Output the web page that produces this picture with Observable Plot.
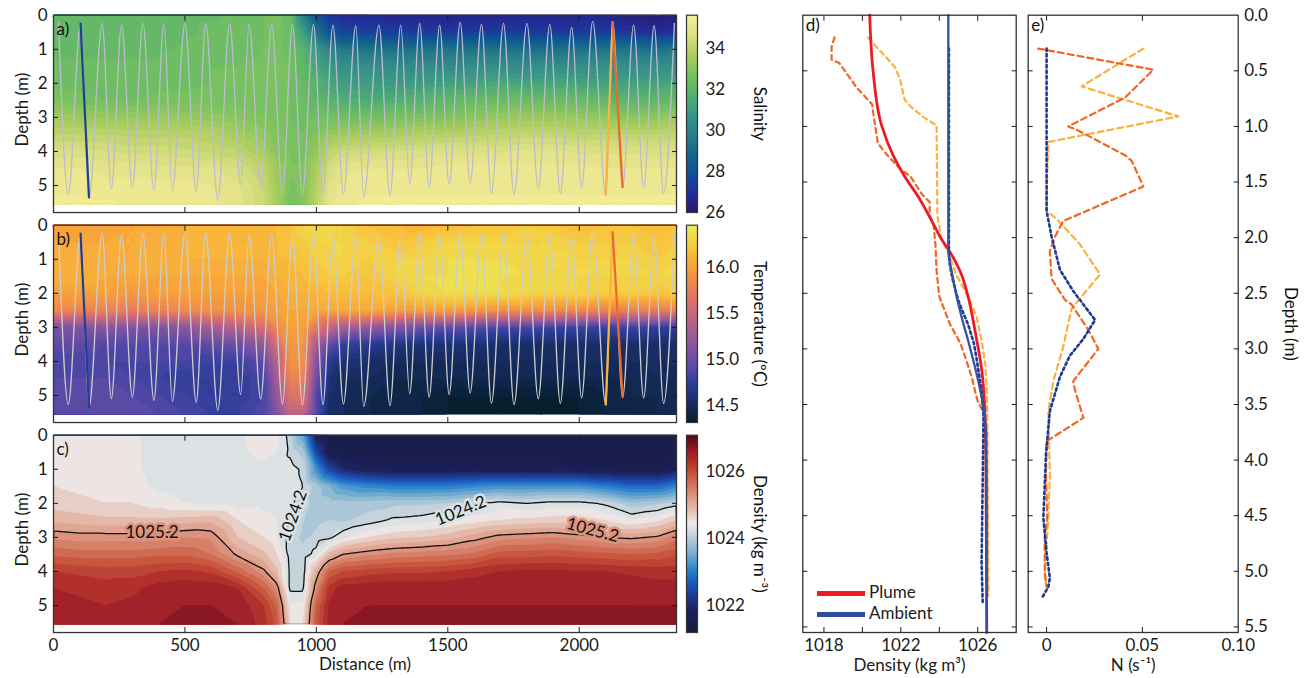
<!DOCTYPE html>
<html><head><meta charset="utf-8">
<script src="https://cdn.jsdelivr.net/npm/d3@7"></script>
<script src="https://cdn.jsdelivr.net/npm/@observablehq/plot@0.6"></script>
<style>
body{margin:0;background:#fff;font-family:Lato,sans-serif;}
#fig{position:relative;width:1309px;height:678px;overflow:hidden;background:#fff;}
#fig svg{overflow:visible;}
.leg{position:absolute;font:17px Lato,sans-serif;line-height:21px;color:#1a1a1a;}
.sw{display:inline-block;width:48px;height:5px;vertical-align:middle;margin-right:4px;}
</style></head><body><div id="fig"></div><script>
// ---------- section grid (distance along track, m) x (depth, m) ----------
const distances = [0,100,200,300,400,500,600,700,800,850,900,950,1000,1050,1100,1200,1300,1400,1500,1600,1700,1800,1900,2000,2100,2200,2300,2370];
const depths = [0,0.5,1,1.5,2,2.5,3,3.5,4,4.5,5,5.55];

const salinity = [
 [32.2,32.2,32.2,32.1,32.1,32.2,32.2,32.3,32.5,32.6,32.3,30.0,28.0,27.0,26.8,26.7,26.6,26.6,26.5,26.5,26.6,26.6,26.5,26.6,26.6,26.3,26.2,26.3],
 [32.2,32.2,32.2,32.1,32.1,32.2,32.3,32.3,32.5,32.6,32.3,31.0,29.3,28.0,27.5,27.4,27.3,27.3,27.2,27.3,27.3,27.2,27.2,27.2,27.3,27.0,26.8,27.0],
 [32.2,32.2,32.2,32.2,32.2,32.3,32.4,32.4,32.5,32.6,32.4,31.8,30.8,30.0,29.5,29.3,29.2,29.2,29.3,29.3,29.3,29.2,29.2,29.3,29.3,29.3,29.2,29.5],
 [32.3,32.3,32.3,32.3,32.3,32.4,32.5,32.5,32.5,32.6,32.5,32.0,31.3,30.8,30.5,30.4,30.3,30.3,30.3,30.4,30.4,30.3,30.4,30.4,30.5,30.4,30.4,30.6],
 [32.4,32.4,32.3,32.3,32.4,32.4,32.5,32.5,32.6,32.6,32.5,32.2,31.8,31.3,31.0,31.0,30.9,31.0,31.1,31.2,31.4,31.2,31.3,31.2,31.2,31.1,31.2,31.3],
 [32.7,32.6,32.5,32.5,32.6,32.6,32.6,32.6,32.6,32.6,32.5,32.3,32.0,31.8,31.6,31.5,31.6,31.8,32.0,32.2,32.3,32.3,32.3,32.2,32.1,31.9,32.0,32.2],
 [33.4,33.3,33.2,33.2,33.3,33.2,33.1,33.0,32.8,32.6,32.5,32.4,32.5,32.5,32.4,32.5,32.6,32.7,32.8,33.0,33.2,33.3,33.3,33.2,33.1,33.0,33.1,33.3],
 [34.0,34.0,34.0,33.9,33.9,33.9,33.8,33.5,33.1,32.8,32.6,32.5,32.8,33.2,33.4,33.5,33.6,33.7,33.8,33.9,34.0,34.1,34.1,34.0,34.0,34.0,34.0,34.1],
 [34.6,34.6,34.5,34.4,34.4,34.3,34.2,34.0,33.5,33.0,32.7,32.6,33.2,34.0,34.3,34.4,34.5,34.6,34.7,34.7,34.7,34.8,34.8,34.7,34.7,34.7,34.6,34.7],
 [35.0,35.0,34.9,34.9,34.8,34.8,34.8,34.5,34.0,33.3,32.8,32.8,33.6,34.5,34.9,35.0,35.0,35.0,35.1,35.1,35.1,35.1,35.1,35.1,35.0,35.0,35.0,35.0],
 [35.2,35.2,35.1,35.1,35.1,35.1,35.0,34.8,34.2,33.4,32.7,32.8,33.8,34.8,35.1,35.2,35.2,35.2,35.2,35.2,35.2,35.2,35.2,35.2,35.2,35.2,35.2,35.2],
 [35.3,35.3,35.3,35.2,35.2,35.2,35.1,34.9,34.3,33.5,32.6,32.8,33.9,34.9,35.2,35.3,35.3,35.3,35.3,35.3,35.3,35.3,35.3,35.3,35.3,35.3,35.3,35.3]
];

const temperature = [
 [16.05,16.0,16.0,16.05,16.05,16.1,16.15,16.1,16.1,16.15,16.2,16.3,16.35,16.3,16.3,16.2,16.15,16.1,16.15,16.2,16.2,16.25,16.2,16.15,16.2,16.2,16.15,16.2],
 [16.05,16.05,16.05,16.05,16.05,16.1,16.1,16.1,16.1,16.15,16.2,16.25,16.3,16.3,16.3,16.25,16.2,16.25,16.3,16.3,16.3,16.3,16.3,16.25,16.25,16.25,16.2,16.25],
 [16.1,16.05,16.05,16.05,16.1,16.1,16.1,16.1,16.1,16.15,16.15,16.2,16.25,16.3,16.3,16.25,16.3,16.3,16.35,16.35,16.35,16.3,16.3,16.3,16.3,16.3,16.25,16.3],
 [16.1,16.1,16.05,16.05,16.05,16.05,16.05,16.05,16.05,16.1,16.1,16.15,16.2,16.25,16.25,16.2,16.3,16.35,16.35,16.4,16.35,16.35,16.3,16.3,16.3,16.3,16.3,16.3],
 [16.0,16.0,16.0,15.95,16.0,16.0,16.0,16.0,16.0,16.05,16.1,16.1,16.1,16.15,16.15,16.15,16.2,16.3,16.35,16.35,16.35,16.3,16.3,16.3,16.25,16.25,16.2,16.25],
 [15.85,15.8,15.8,15.75,15.8,15.85,15.9,15.9,15.95,16.0,16.05,16.05,16.05,16.05,16.05,16.05,16.0,16.0,16.0,15.95,15.9,15.9,15.85,15.85,15.8,15.8,15.75,15.8],
 [15.05,15.1,15.15,15.1,15.1,15.15,15.3,15.4,15.6,15.85,16.0,16.0,15.7,15.5,15.3,15.2,15.1,15.0,14.95,14.9,14.85,14.85,14.8,14.8,14.8,14.8,14.75,14.75],
 [14.95,14.95,14.9,14.9,14.9,14.9,14.95,15.0,15.2,15.6,15.95,15.95,15.3,14.95,14.75,14.7,14.65,14.6,14.6,14.6,14.55,14.55,14.55,14.55,14.55,14.55,14.55,14.55],
 [14.85,14.85,14.85,14.85,14.85,14.85,14.8,14.8,14.95,15.4,15.9,15.9,15.1,14.7,14.6,14.55,14.5,14.5,14.5,14.5,14.5,14.5,14.5,14.5,14.5,14.5,14.5,14.5],
 [14.9,14.9,14.9,14.85,14.8,14.75,14.75,14.75,14.85,15.3,15.8,15.8,15.0,14.6,14.5,14.5,14.45,14.45,14.45,14.45,14.45,14.45,14.45,14.45,14.45,14.45,14.5,14.5],
 [14.95,14.95,14.95,14.9,14.85,14.8,14.75,14.75,14.85,15.2,15.65,15.65,14.9,14.55,14.5,14.45,14.45,14.4,14.35,14.35,14.35,14.35,14.35,14.35,14.4,14.45,14.45,14.5],
 [14.95,14.95,14.95,14.95,14.9,14.85,14.8,14.8,14.9,15.1,15.45,15.45,14.9,14.55,14.5,14.45,14.45,14.4,14.35,14.35,14.35,14.35,14.35,14.35,14.4,14.45,14.45,14.5]
];

const density = [
 [1024.55,1024.55,1024.55,1024.45,1024.3,1024.3,1024.3,1024.35,1024.5,1024.45,1024.1,1023.4,1021.8,1021.5,1021.45,1021.45,1021.45,1021.45,1021.45,1021.45,1021.45,1021.45,1021.45,1021.45,1021.45,1021.4,1021.4,1021.45],
 [1024.55,1024.55,1024.55,1024.45,1024.3,1024.3,1024.3,1024.35,1024.45,1024.4,1024.15,1023.9,1022.4,1021.6,1021.5,1021.5,1021.5,1021.5,1021.5,1021.5,1021.5,1021.5,1021.5,1021.5,1021.5,1021.45,1021.45,1021.5],
 [1024.55,1024.55,1024.55,1024.45,1024.3,1024.3,1024.3,1024.3,1024.35,1024.35,1024.3,1024.15,1023.2,1022.4,1022.0,1021.75,1021.7,1021.7,1021.7,1021.7,1021.7,1021.7,1021.7,1021.65,1021.6,1021.6,1021.6,1021.8],
 [1024.6,1024.55,1024.55,1024.5,1024.35,1024.3,1024.3,1024.3,1024.35,1024.35,1024.3,1024.2,1023.9,1023.6,1023.3,1023.1,1023.0,1023.0,1023.0,1023.1,1023.2,1023.2,1023.2,1023.2,1023.0,1022.8,1022.8,1023.1],
 [1024.7,1024.65,1024.6,1024.6,1024.5,1024.4,1024.35,1024.3,1024.35,1024.35,1024.25,1024.05,1023.95,1023.9,1023.9,1023.9,1023.95,1023.95,1024.0,1024.15,1024.3,1024.2,1024.3,1024.3,1024.15,1023.85,1023.95,1024.1],
 [1024.95,1024.9,1024.85,1024.85,1024.85,1024.9,1024.95,1024.6,1024.45,1024.4,1024.2,1024.0,1023.95,1024.0,1023.95,1024.1,1024.25,1024.3,1024.4,1024.5,1024.6,1024.65,1024.7,1024.7,1024.6,1024.4,1024.55,1024.8],
 [1025.35,1025.3,1025.3,1025.3,1025.3,1025.4,1025.35,1024.8,1024.6,1024.45,1024.1,1023.95,1024.05,1024.15,1024.35,1024.6,1024.75,1024.8,1024.9,1025.1,1025.3,1025.35,1025.4,1025.3,1025.2,1025.15,1025.25,1025.5],
 [1025.75,1025.7,1025.7,1025.7,1025.75,1025.75,1025.6,1025.15,1024.85,1024.6,1024.1,1024.05,1024.3,1024.9,1025.2,1025.35,1025.45,1025.5,1025.55,1025.65,1025.9,1025.9,1025.95,1025.9,1025.85,1025.8,1025.85,1025.95],
 [1026.2,1026.15,1026.1,1026.1,1026.2,1026.25,1026.15,1025.75,1025.25,1024.85,1024.15,1024.1,1025.0,1025.8,1026.0,1026.1,1026.15,1026.15,1026.2,1026.3,1026.4,1026.45,1026.45,1026.4,1026.4,1026.35,1026.3,1026.3],
 [1026.4,1026.35,1026.3,1026.35,1026.5,1026.55,1026.55,1026.4,1025.8,1025.35,1024.15,1024.15,1025.4,1026.3,1026.5,1026.55,1026.55,1026.55,1026.55,1026.55,1026.55,1026.55,1026.55,1026.55,1026.55,1026.55,1026.5,1026.5],
 [1026.55,1026.45,1026.4,1026.45,1026.55,1026.6,1026.6,1026.55,1026.2,1025.75,1024.45,1024.45,1025.8,1026.45,1026.6,1026.6,1026.6,1026.6,1026.6,1026.6,1026.6,1026.6,1026.6,1026.6,1026.6,1026.6,1026.6,1026.6],
 [1026.6,1026.5,1026.45,1026.5,1026.6,1026.65,1026.65,1026.6,1026.3,1025.9,1024.6,1024.6,1025.9,1026.5,1026.6,1026.62,1026.62,1026.62,1026.62,1026.62,1026.62,1026.62,1026.62,1026.62,1026.62,1026.62,1026.62,1026.62]
];

// tow-yo path turning points
const towDistance = [19,56,103,135,185,220,259,300,340,382,420,452,500,543,579,625,670,712,744,788,830,871,909,947,989,1025,1063,1103,1150,1180,1238,1280,1321,1355,1393,1429,1469,1505,1547,1585,1628,1666,1712,1752,1801,1844,1888,1928,1971,2009,2051,2101,2127,2165,2207,2245,2285,2321,2362];
const towDepth = [0.2,5.27,0.25,5.35,0.24,5.1,0.29,5.05,0.24,5.14,0.24,5.17,0.24,5.2,0.24,5.44,0.24,4.97,0.27,5.1,0.27,5.25,0.27,5.27,0.27,5.27,0.29,5.25,0.31,5.32,0.29,5.3,0.29,4.95,0.24,5.05,0.29,4.97,0.21,4.93,0.27,5.23,0.24,5.27,0.24,5.1,0.27,5.23,0.36,5.07,0.18,5.27,0.2,5.05,0.29,5.07,0.31,5.23,0.24];

// selected casts
const ambientCastDistance = [103,135], ambientCastDepth = [0.25,5.35];
const plumeUpcastDistance = [2101,2127], plumeUpcastDepth = [5.27,0.2];
const plumeDowncastDistance = [2127,2165], plumeDowncastDepth = [0.2,5.05];

// labelled isopycnals
const isopycnals = [1024.2, 1025.2];
const isoLabelText = ["1025.2","1024.2","1024.2","1025.2"];
const isoLabelDistance = [375, 911, 1549, 2051];
const isoLabelDepth = [2.86, 2.37, 2.22, 2.79];
const isoLabelAngle = [0, -70, -22, 15];

// panel d : density profiles
const plumeModelRho = [1020.38,1020.55,1021.0,1021.6,1022.2,1022.9,1023.7,1024.1,1024.56,1025.08,1025.5,1025.86,1026.2,1026.38,1026.43,1026.47];
const plumeModelDepth = [0,0.49,0.99,1.26,1.45,1.63,1.88,2.01,2.13,2.3,2.53,2.84,3.18,3.6,4.15,5.55];
const ambientModelRho = [1024.47,1024.47,1024.52,1024.64,1024.9,1025.17,1025.6,1026.04,1026.3,1026.43,1026.47];
const ambientModelDepth = [0,2.1,2.2,2.3,2.53,2.72,2.99,3.3,3.53,3.76,5.55];
const plumeCastARho = [1018.55,1018.4,1018.4,1018.8,1019.7,1020.5,1020.6,1020.8,1021.2,1021.95,1022.5,1023.1,1023.5,1023.5,1023.7,1023.8,1023.86,1024.0,1024.56,1025.1,1025.4,1025.7,1025.86,1026.0,1026.3,1026.47,1026.5];
const plumeCastADepth = [0.2,0.28,0.4,0.43,0.65,0.8,0.92,1.15,1.24,1.38,1.45,1.61,1.68,1.8,1.88,2.07,2.3,2.53,2.78,2.95,3.1,3.26,3.38,3.47,3.57,3.76,5.22];
const plumeCastBRho = [1020.3,1020.7,1021.25,1021.7,1021.95,1022.2,1022.5,1023.2,1023.86,1023.9,1024.1,1024.56,1024.9,1025.25,1025.6,1025.95,1026.2,1026.4,1026.47,1026.5,1026.55];
const plumeCastBDepth = [0.2,0.28,0.38,0.47,0.57,0.76,0.82,0.92,0.99,1.8,2.0,2.18,2.34,2.45,2.57,2.72,2.92,3.15,3.38,3.6,5.22];
const ambientCastRho = [1024.5,1024.5,1024.55,1024.7,1025.0,1025.25,1025.5,1025.8,1025.95,1026.2,1026.3,1026.26,1026.2,1026.26];
const ambientCastRhoDepth = [0.3,2.1,2.25,2.38,2.57,2.68,2.78,2.95,3.1,3.38,3.6,4.15,4.92,5.3];

// panel e : buoyancy frequency
const plumeCastAN = [-0.0044,0.0557,0.041,0.0113,0.0157,0.0235,0.041,0.0444,0.0505,0.0087,0.0044,0.0017,0.0026,0.0096,0.013,0.0218,0.027,0.0139,0.0148,0.0192,0,-0.0003,0.0003,-0.001,-0.0009,0];
const plumeCastANDepth = [0.3,0.49,0.74,1.0,1.03,1.1,1.26,1.31,1.54,1.85,1.99,2.12,2.37,2.56,2.6,2.83,3.0,3.29,3.37,3.62,3.83,4.14,4.52,4.71,5.02,5.13];
const plumeCastBN = [0.0505,0.0183,0.0688,0.0009,0.0003,0,0.0052,0.0174,0.0279,0.013,0.0087,0.0035,0.0009,0.0014,0.0017,0.0009,-0.0003,-0.0009,0];
const plumeCastBNDepth = [0.3,0.64,0.91,1.14,1.45,1.76,1.83,2.06,2.33,2.64,2.98,3.29,3.56,3.94,4.14,4.52,4.83,5.06,5.15];
const ambientCastN = [0,0,0,0.0026,0.007,0.0139,0.0253,0.0192,0.0122,0.007,0.0017,-0.0003,-0.0017,0,0.0017,0.0009,-0.0021];
const ambientCastNDepth = [0.3,1.06,1.76,1.99,2.29,2.48,2.74,2.91,3.06,3.25,3.56,3.94,4.52,4.83,5.06,5.14,5.23];

const legendNames = ["Plume","Ambient"];

// ---------- colour maps ----------
function ramp(vals, cols, lo, hi, shift = 0) {
  const s = d3.scaleLinear().domain(vals).range(cols).interpolate(d3.interpolateRgb).clamp(true);
  return {type: "linear", domain: [lo, hi], interpolate: t => s(lo + t * (hi - lo) + shift)};
}
const SAL = [26, 35.6], TEM = [14.32, 16.46], RHO = [1021.2, 1027.07];
const salStops = [[26,26.96,27.92,28.88,29.84,30.8,31.76,32.72,33.68,34.64,35.6],
  ["#29186b","#21309a","#0f5297","#16688b","#2a8189","#3a9787","#56b26e","#7cc25e","#b0cf5e","#dcdf84","#fbef9b"]];
const temStops = [[14.32,14.45,14.6,14.75,14.9,15.05,15.25,15.5,15.75,16.0,16.2,16.46],
  ["#061e2d","#122850","#1d3275","#2e3e99","#5448a6","#7651a4","#9b5b98","#c7687e","#e77c5c","#f7a13a","#f9c43c","#e8ee58"]];
const rhoStops = [[1021.2,1021.9,1022.3,1022.7,1023.1,1023.6,1024.0,1024.45,1024.9,1025.4,1025.9,1026.3,1026.6,1027.07],
  ["#161a3d","#1c2360","#1f3a93","#1c5cc0","#2f86cc","#7fb2d0","#b9cdd8","#eeebea","#e4b8a8","#d98a72","#c9573e","#b2302b","#9a1b28","#4a0a15"]];
// colorbars: continuous; sections: each filled band takes the colour of its mid value
const salBar = ramp(...salStops, ...SAL), salFill = ramp(...salStops, ...SAL, 0.125);
const temBar = ramp(...temStops, ...TEM), temFill = ramp(...temStops, ...TEM, 0.025);
const rhoBar = ramp(...rhoStops, ...RHO), rhoFill = ramp(...rhoStops, ...RHO, 0.1);

const style = {fontFamily: "Lato, sans-serif", fontSize: "17px", color: "#1a1a1a", background: "transparent", overflow: "visible"};
const fig = document.getElementById("fig");
function place(node, left, top) { node.style.position = "absolute"; node.style.left = left + "px"; node.style.top = top + "px"; fig.appendChild(node); }
const zip = (xs, ys) => xs.map((x, i) => ({x, d: ys[i]}));
const noText = () => "";
const intFmt = d3.format("d");

function gridPoints(values) { return depths.flatMap((d, i) => distances.map((x, j) => ({x, d, v: values[i][j]}))); }
const tow = zip(towDistance, towDepth);
const EXT = 8.3; // white strip below last data row, inside frame

function section(cfg) {
  const pts = gridPoints(cfg.values);
  const h = cfg.xLabels ? 258 : 214;
  const marks = [
    Plot.contour(pts, {x: "x", y: "d", value: "v", fill: "value", stroke: "value", strokeWidth: 0.6, interpolate: "barycentric", thresholds: cfg.thresholds, x1: 0, x2: 2370, y1: 0, y2: 5.55})
  ];
  if (cfg.lines) {
    marks.push(Plot.contour(pts, {x: "x", y: "d", value: "v", thresholds: cfg.lines, stroke: "#111", strokeWidth: 1.3, fill: "none", interpolate: "barycentric", x1: -200, x2: 2570, y1: -0.5, y2: 6.1, clip: "frame"}));
    const labs = isoLabelText.map((t, i) => ({t, x: isoLabelDistance[i], d: isoLabelDepth[i], a: isoLabelAngle[i]}));
    marks.push(Plot.text(labs, {x: "x", y: "d", text: "t", rotate: "a", fill: "#111", stroke: d => +d.t, strokeWidth: 5, paintOrder: "stroke", fontSize: 17}));
  }
  if (cfg.towStroke) {
    marks.push(Plot.line(tow, {x: "x", y: "d", stroke: cfg.towStroke, strokeWidth: 1.3, curve: "monotone-x"}));
    marks.push(Plot.line(zip(ambientCastDistance, ambientCastDepth), {x: "x", y: "d", stroke: "#1f3f94", strokeWidth: 2.2}));
    marks.push(Plot.line(zip(plumeUpcastDistance, plumeUpcastDepth), {x: "x", y: "d", stroke: "#fbb040", strokeWidth: 2.2}));
    marks.push(Plot.line(zip(plumeDowncastDistance, plumeDowncastDepth), {x: "x", y: "d", stroke: "#f26522", strokeWidth: 2.2}));
  }
  marks.push(
    Plot.frame({stroke: "#333", strokeWidth: 1.3, insetBottom: -EXT}),
    Plot.axisY({anchor: "left", ticks: [0,1,2,3,4,5], tickSize: 0, tickPadding: 6, tickFormat: intFmt, label: "Depth (m)", labelArrow: "none", labelAnchor: "center", labelOffset: 38}),
    Plot.axisY({anchor: "left", ticks: [1,2,3,4,5], tickSize: -5, tickFormat: noText, label: null}),
    Plot.axisY({anchor: "right", ticks: [1,2,3,4,5], tickSize: -5, tickFormat: noText, label: null}),
    Plot.axisX({anchor: "top", ticks: [500,1000,1500,2000], tickSize: -5, tickFormat: noText, label: null}),
    Plot.axisX({anchor: "bottom", ticks: [500,1000,1500,2000], tickSize: -5, tickFormat: noText, label: null, dy: EXT}),
    Plot.text([cfg.tag], {frameAnchor: "top-left", dx: 3, dy: 8, fill: "#111"})
  );
  if (cfg.xLabels) marks.push(Plot.axisX({anchor: "bottom", ticks: [0,500,1000,1500,2000], tickSize: 0, tickPadding: 6, tickFormat: intFmt, dy: EXT, label: "Distance (m)", labelArrow: "none", labelAnchor: "center", labelOffset: 46}));
  return Plot.plot({
    width: 680, height: h, marginLeft: 53, marginRight: 4, marginTop: 14.7, marginBottom: h - 14.7 - 5.55 * 34.06,
    x: {domain: [0, 2370]}, y: {domain: [0, 5.55], reverse: true},
    color: cfg.color, style, marks
  });
}

function colorbar(cfg) {
  return Plot.plot({
    width: 110, height: 214, marginLeft: 6, marginRight: 93, marginTop: 14.7, marginBottom: 2,
    x: {domain: [0, 1], axis: null}, y: {domain: cfg.domain},
    color: cfg.color, style,
    marks: [
      Plot.raster({x1: 0, x2: 1, y1: cfg.domain[0], y2: cfg.domain[1], fill: (x, y) => y}),
      Plot.frame({stroke: "#333", strokeWidth: 1.2}),
      Plot.axisY({anchor: "right", ticks: cfg.ticks, tickSize: 0, tickPadding: 8, tickFormat: cfg.format, label: null}),
      Plot.text([cfg.title], {frameAnchor: "right", rotate: 90, dx: 62, textAnchor: "middle", lineAnchor: "middle", fill: "#111"})
    ]
  });
}

place(section({values: salinity, color: salFill, thresholds: d3.range(0, 40).map(i => 26 + 0.25 * i), towStroke: "#bcbccf", tag: "a)"}), 0, 0);
place(section({values: temperature, color: temFill, thresholds: d3.range(0, 44).map(i => 14.3 + 0.05 * i), towStroke: "#cdcdcd", tag: "b)"}), 0, 210);
place(section({values: density, color: rhoFill, thresholds: d3.range(0, 30).map(i => 1021.2 + 0.2 * i), lines: isopycnals, tag: "c)", xLabels: true}), 0, 420);

place(colorbar({domain: SAL, color: salBar, ticks: [26,28,30,32,34], format: intFmt, title: "Salinity"}), 680, 0);
place(colorbar({domain: TEM, color: temBar, ticks: [14.5,15,15.5,16], format: d3.format(".1f"), title: "Temperature (ºC)"}), 680, 210);
place(colorbar({domain: RHO, color: rhoBar, ticks: [1022,1024,1026], format: intFmt, title: "Density (kg m⁻³)"}), 680, 420);

// ---------- panel d ----------
const depthTicks = d3.range(1, 12).map(i => i * 0.5);
const prof = (vs, ds) => vs.map((v, i) => ({v, d: ds[i]}));
place(Plot.plot({
  width: 245, height: 678, marginLeft: 22.3, marginRight: 9.3, marginTop: 14.7, marginBottom: 46,
  x: {domain: [1016.9, 1028]}, y: {domain: [0, 5.55], reverse: true}, style,
  marks: [
    Plot.line(prof(plumeCastBRho, plumeCastBDepth), {x: "v", y: "d", stroke: "#fbb040", strokeWidth: 2.2, strokeDasharray: "5,4"}),
    Plot.line(prof(plumeCastARho, plumeCastADepth), {x: "v", y: "d", stroke: "#f26522", strokeWidth: 2.2, strokeDasharray: "5,4"}),
    Plot.line(prof(plumeModelRho, plumeModelDepth), {x: "v", y: "d", stroke: "#ed1c24", strokeWidth: 2.8, curve: "monotone-y"}),
    Plot.line(prof(ambientCastRho, ambientCastRhoDepth), {x: "v", y: "d", stroke: "#1c3a91", strokeWidth: 2.6, strokeDasharray: "2.5,3"}),
    Plot.line(prof(ambientModelRho, ambientModelDepth), {x: "v", y: "d", stroke: "#3451a3", strokeWidth: 2.3, curve: "monotone-y"}),
    Plot.frame({stroke: "#333", strokeWidth: 1.3}),
    Plot.axisX({anchor: "bottom", ticks: [1018,1020,1022,1024,1026], tickSize: 0, tickPadding: 6, tickFormat: d => (d - 1018) % 4 === 0 ? intFmt(d) : "", label: "Density (kg m³)", labelArrow: "none", labelAnchor: "center", labelOffset: 38}),
    Plot.axisX({anchor: "bottom", ticks: [1018,1020,1022,1024,1026], tickSize: -5, tickFormat: noText, label: null}),
    Plot.axisX({anchor: "top", ticks: [1018,1020,1022,1024,1026], tickSize: -5, tickFormat: noText, label: null}),
    Plot.axisY({anchor: "left", ticks: depthTicks, tickSize: -5, tickFormat: noText, label: null}),
    Plot.axisY({anchor: "right", ticks: depthTicks, tickSize: -5, tickFormat: noText, label: null}),
    Plot.text(["d)"], {frameAnchor: "top-left", dx: 3, dy: 4, fill: "#111"})
  ]
}), 780, 0);

// ---------- panel e ----------
place(Plot.plot({
  width: 289, height: 678, marginLeft: 7.7, marginRight: 71.3, marginTop: 14.7, marginBottom: 46,
  x: {domain: [-0.0096, 0.1]}, y: {domain: [0, 5.55], reverse: true}, style,
  marks: [
    Plot.line(prof(plumeCastBN, plumeCastBNDepth), {x: "v", y: "d", stroke: "#fbb040", strokeWidth: 2.2, strokeDasharray: "6,4"}),
    Plot.line(prof(plumeCastAN, plumeCastANDepth), {x: "v", y: "d", stroke: "#f26522", strokeWidth: 2.2, strokeDasharray: "6,4"}),
    Plot.line(prof(ambientCastN, ambientCastNDepth), {x: "v", y: "d", stroke: "#1c3a91", strokeWidth: 2.6, strokeDasharray: "2.5,3"}),
    Plot.frame({stroke: "#333", strokeWidth: 1.3}),
    Plot.axisX({anchor: "bottom", ticks: [0, 0.05, 0.1], tickSize: 0, tickPadding: 6, tickFormat: d => d === 0 ? "0" : d3.format(".2f")(d), label: "N (s⁻¹)", labelArrow: "none", labelAnchor: "center", labelOffset: 38}),
    Plot.axisX({anchor: "bottom", ticks: [0, 0.05], tickSize: -5, tickFormat: noText, label: null}),
    Plot.axisX({anchor: "top", ticks: [0, 0.05], tickSize: -5, tickFormat: noText, label: null}),
    Plot.axisY({anchor: "left", ticks: depthTicks, tickSize: -5, tickFormat: noText, label: null}),
    Plot.axisY({anchor: "right", ticks: depthTicks, tickSize: -5, tickFormat: noText, label: null}),
    Plot.axisY({anchor: "right", ticks: [0, ...depthTicks], tickSize: 0, tickPadding: 6, tickFormat: d3.format(".1f"), label: null}),
    Plot.text(["Depth (m)"], {frameAnchor: "right", rotate: 90, dx: 52, textAnchor: "middle", lineAnchor: "middle", fill: "#111"}),
    Plot.text(["e)"], {frameAnchor: "top-left", dx: 3, dy: 4, fill: "#111"})
  ]
}), 1020, 0);

// legend for panel d
const leg = document.createElement("div");
leg.className = "leg"; leg.style.left = "817px"; leg.style.top = "581px";
const legColors = ["#ed1c24", "#2e4ca0"];
legendNames.forEach((n, i) => {
  const row = document.createElement("div");
  const sw = document.createElement("span"); sw.className = "sw"; sw.style.background = legColors[i];
  row.appendChild(sw); row.appendChild(document.createTextNode(n)); leg.appendChild(row);
});
fig.appendChild(leg);
</script></body></html>
